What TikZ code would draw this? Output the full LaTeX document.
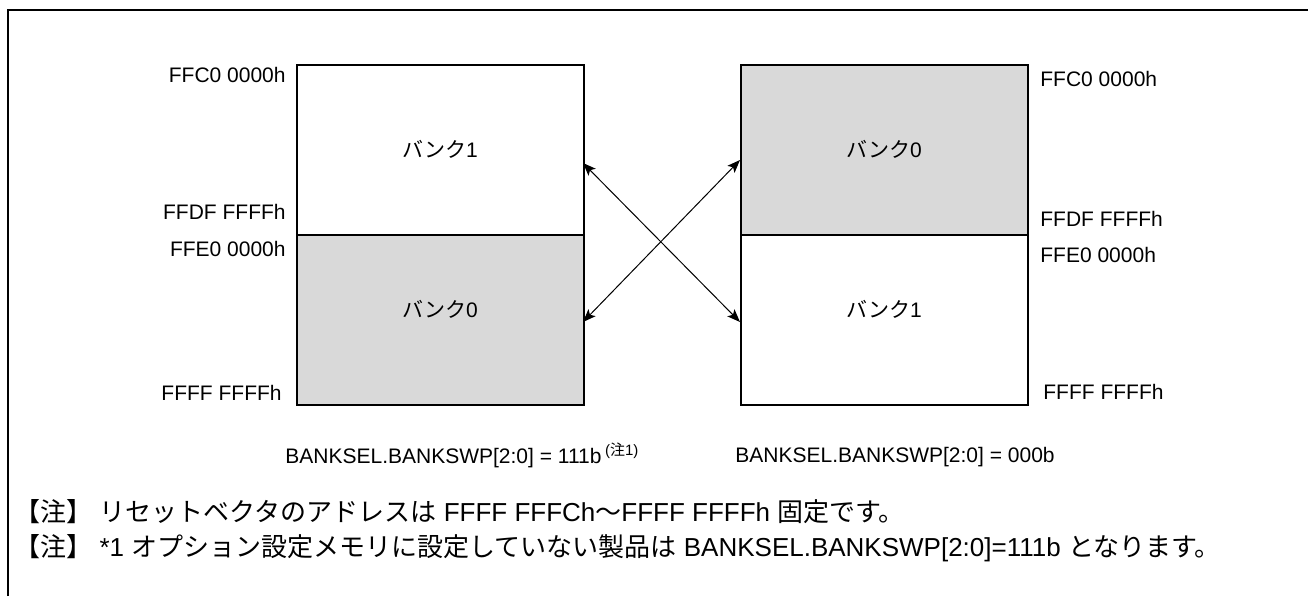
\documentclass[tikz,border=0pt]{standalone}
\usepackage{fontspec}
\setmainfont{Liberation Sans}
\newfontfamily\jpfont{Noto Sans CJK JP}
\usetikzlibrary{arrows.meta}
\newcommand\jp[1]{{\jpfont #1}}
\definecolor{bankgray}{RGB}{217,217,217}
\begin{document}
\begin{tikzpicture}[x=0.5pt,y=-0.5pt,
  lbl/.style={font=\fontsize{10.5}{12}\selectfont, inner sep=0pt},
  note/.style={font=\fontsize{13}{15}\selectfont, inner sep=0pt, anchor=base west},
  bank/.style={draw, line width=0.75pt, minimum width=143.5pt, minimum height=85pt, inner sep=0pt, anchor=north west},
  xarrow/.style={<->, line width=0.5pt, >={Stealth[length=6.5pt,width=5pt,inset=1.5pt]}},
  frame/.style={line width=1pt}]
\useasboundingbox (0,0) rectangle (1308,596);
\draw[frame] (8,596) -- (8,10) -- (1308,10);

% left map
\node[bank] (lt) at (296,64) {};
\node[bank, fill=bankgray] (lb) at (296,234) {};
\node[lbl] (lt1) at (440,149) {\jp{バンク}1};
\node[lbl] (lb0) at (440,309) {\jp{バンク}0};
\node[lbl, anchor=east] (la1) at (286,75) {FFC0 0000h};
\node[lbl, anchor=east] (la2) at (286,212) {FFDF FFFFh};
\node[lbl, anchor=east] (la3) at (286,249) {FFE0 0000h};
\node[lbl, anchor=east] (la4) at (282,393) {FFFF FFFFh};

% right map
\node[bank, fill=bankgray] (rt) at (740,64) {};
\node[bank] (rb) at (740,234) {};
\node[lbl] (rt0) at (884,149) {\jp{バンク}0};
\node[lbl] (rb1) at (884,309) {\jp{バンク}1};
\node[lbl, anchor=west] (ra1) at (1040,79) {FFC0 0000h};
\node[lbl, anchor=west] (ra2) at (1040,219) {FFDF FFFFh};
\node[lbl, anchor=west] (ra3) at (1040,255) {FFE0 0000h};
\node[lbl, anchor=west] (ra4) at (1043,392) {FFFF FFFFh};

% arrows
\coordinate (a1s) at (583,163);
\coordinate (a1e) at (740,322);
\coordinate (a2s) at (583,322);
\coordinate (a2e) at (740,160);
\draw[xarrow] (a1s) -- (a1e);
\draw[xarrow] (a2s) -- (a2e);

% captions
\node[lbl, anchor=base west] (cl) at (285,463) {BANKSEL.BANKSWP[2:0] = 111b\,\raisebox{4pt}{\fontsize{7.5}{8}\selectfont(\jp{注}1)}};
\node[lbl, anchor=base west] (cr) at (735,462) {BANKSEL.BANKSWP[2:0] = 000b};

% notes
\node[note] (n1) at (14,521) {\jp{【注】}\ \jp{リセットベクタのアドレスは} FFFF FFFCh\jp{～}FFFF FFFFh \jp{固定です。}};
\node[note] (n2) at (14,556) {\jp{【注】}\ *1 \jp{オプション設定メモリに設定していない製品は} BANKSEL.BANKSWP[2:0]=111b \jp{となります。}};
\end{tikzpicture}
\end{document}
